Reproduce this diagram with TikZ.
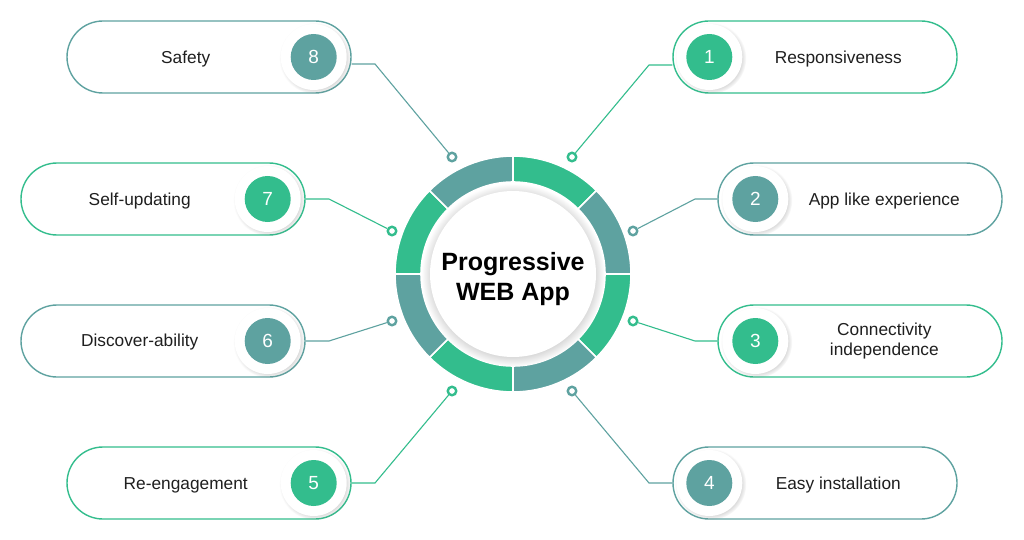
\documentclass[tikz,border=0pt]{standalone}
\usepackage{fontspec}
\setmainfont{Liberation Sans}
\usepackage{xcolor}
\usepackage{tikz}
\usetikzlibrary{positioning}
\usetikzlibrary{shadows}
\definecolor{pwgreen}{HTML}{33BD8D}
\definecolor{pwteal}{HTML}{5EA2A0}

\begin{document}
\begin{tikzpicture}[x=1pt,y=1pt,
    pill/.style={draw, line width=1.4pt, fill=white, rounded corners=36pt,
      minimum width=284pt, minimum height=72pt, inner sep=0pt},
    halo/.style={circle, fill=white, minimum size=66pt, inner sep=0pt,
      circular drop shadow={shadow scale=1.08, shadow xshift=1.2pt, shadow yshift=-1.2pt, opacity=0.3}},
    numdot/.style={circle, minimum size=46pt, inner sep=0pt, text=white,
      font=\fontsize{19}{19}\selectfont},
    itemtext/.style={font=\fontsize{17.3}{20}\selectfont, align=center, text=black!88},
    link/.style={line width=1.1pt},
    marker/.style={circle, draw, line width=2.4pt, fill=white, minimum size=8.5pt, inner sep=0pt}]
    \fill[white] (0,0) rectangle (1024,539);
    \useasboundingbox (0,0) rectangle (1024,539);
    %
    % ring of eight segments
    \begin{scope}[shift={(513,265)}]
      \foreach \k in {1,...,8}{
        \pgfmathsetmacro\a{135-45*\k}
        \pgfmathsetmacro\b{90-45*\k}
        \ifodd\k \def\segcol{pwgreen}\else\def\segcol{pwteal}\fi
        \draw[fill=\segcol, draw=white, line width=1.6pt] (\a:118)
          arc[start angle=\a, end angle=\b, radius=118] -- (\b:92)
          arc[start angle=\b, end angle=\a, radius=92] -- cycle;
      }
    \end{scope}
    \node[circle, fill=white, minimum size=166pt,
      circular drop shadow={shadow scale=1.1, shadow xshift=0pt, shadow yshift=-1pt, opacity=0.4}]
      (core) at (513,265) {};
    \node[align=center, font=\fontsize{25}{30}\selectfont\bfseries]
      (title) at ([yshift=-5pt]core.center) {Progressive\\WEB App};
    %
    % right side
    \node[pill, draw=pwgreen] (p1) at (815,482) {};
    \node[pill, draw=pwteal] (p2) at (860,340) {};
    \node[pill, draw=pwgreen] (p3) at (860,198) {};
    \node[pill, draw=pwteal] (p4) at (815,56) {};
    \node[halo] (h1) at ([xshift=37pt]p1.west) {};
    \node[halo] (h2) at ([xshift=38pt]p2.west) {};
    \node[halo] (h3) at ([xshift=38pt]p3.west) {};
    \node[halo] (h4) at ([xshift=37pt]p4.west) {};
    \node[numdot, fill=pwgreen] (n1) at (h1) {1};
    \node[numdot, fill=pwteal] (n2) at (h2) {2};
    \node[numdot, fill=pwgreen] (n3) at (h3) {3};
    \node[numdot, fill=pwteal] (n4) at (h4) {4};
    \node[itemtext] (t1) at ([xshift=166pt,yshift=-2pt]p1.west) {Responsiveness};
    \node[itemtext] (t2) at ([xshift=167pt,yshift=-2pt]p2.west) {App like experience};
    \node[itemtext] (t3) at ([xshift=167pt]p3.west) {Connectivity\\independence};
    \node[itemtext] (t4) at ([xshift=166pt,yshift=-2pt]p4.west) {Easy installation};
    %
    % left side
    \node[pill, draw=pwteal] (p8) at (209,482) {};
    \node[pill, draw=pwgreen] (p7) at (163,340) {};
    \node[pill, draw=pwteal] (p6) at (163,198) {};
    \node[pill, draw=pwgreen] (p5) at (209,56) {};
    \node[halo] (h8) at ([xshift=-38pt]p8.east) {};
    \node[halo] (h7) at ([xshift=-38pt]p7.east) {};
    \node[halo] (h6) at ([xshift=-38pt]p6.east) {};
    \node[halo] (h5) at ([xshift=-38pt]p5.east) {};
    \node[numdot, fill=pwteal] (n8) at (h8) {8};
    \node[numdot, fill=pwgreen] (n7) at (h7) {7};
    \node[numdot, fill=pwteal] (n6) at (h6) {6};
    \node[numdot, fill=pwgreen] (n5) at (h5) {5};
    \node[itemtext] (t8) at ([xshift=-166pt,yshift=-2pt]p8.east) {Safety};
    \node[itemtext] (t7) at ([xshift=-166pt,yshift=-2pt]p7.east) {Self-updating};
    \node[itemtext] (t6) at ([xshift=-166pt,yshift=-1pt]p6.east) {Discover-ability};
    \node[itemtext] (t5) at ([xshift=-166pt,yshift=-2pt]p5.east) {Re-engagement};
    %
    % connectors
    \node[marker, draw=pwgreen] (m1) at (572,382) {};
    \node[marker, draw=pwteal] (m2) at (633,308) {};
    \node[marker, draw=pwgreen] (m3) at (633,218) {};
    \node[marker, draw=pwteal] (m4) at (572,148) {};
    \node[marker, draw=pwgreen] (m5) at (452,148) {};
    \node[marker, draw=pwteal] (m6) at (392,218) {};
    \node[marker, draw=pwgreen] (m7) at (392,308) {};
    \node[marker, draw=pwteal] (m8) at (452,382) {};
    \coordinate (e1) at (649,474);
    \coordinate (e2) at (695,340);
    \coordinate (e3) at (695,198);
    \coordinate (e4) at (649,56);
    \coordinate (e5) at (375,56);
    \coordinate (e6) at (329,198);
    \coordinate (e7) at (329,340);
    \coordinate (e8) at (375,475);
    \draw[link, pwgreen] (m1) -- (e1) -- (e1 -| p1.west);
    \draw[link, pwteal] (m2) -- (e2) -- (p2.west);
    \draw[link, pwgreen] (m3) -- (e3) -- (p3.west);
    \draw[link, pwteal] (m4) -- (e4) -- (p4.west);
    \draw[link, pwgreen] (m5) -- (e5) -- (p5.east);
    \draw[link, pwteal] (m6) -- (e6) -- (p6.east);
    \draw[link, pwgreen] (m7) -- (e7) -- (p7.east);
    \draw[link, pwteal] (m8) -- (e8) -- (e8 -| p8.east);
  \end{tikzpicture}
\end{document}
